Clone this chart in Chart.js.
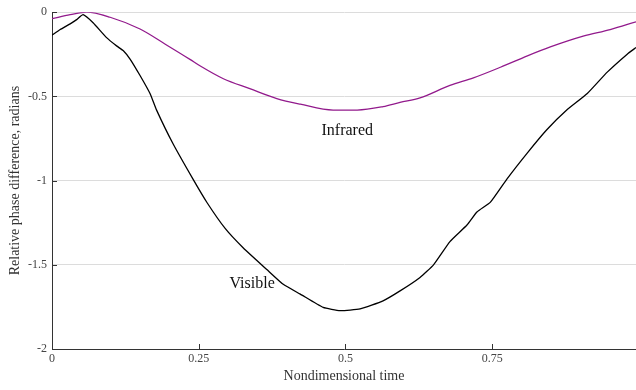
<!DOCTYPE html>
<html>
<head>
<meta charset="utf-8">
<script src="https://cdn.jsdelivr.net/npm/chart.js@4.4.1/dist/chart.umd.min.js"></script>
<style>
  html, body { margin: 0; padding: 0; background: #fff; }
  #wrap { width: 636px; height: 390px; position: relative; }
</style>
</head>
<body>
<div id="wrap"><canvas id="phaseChart"></canvas></div>
<script>
// values
const visibleTime = [0, 0.014, 0.031, 0.042, 0.053, 0.07, 0.093, 0.11, 0.122, 0.133, 0.15, 0.167, 0.178, 0.206, 0.24, 0.264, 0.295, 0.326, 0.366, 0.394, 0.423, 0.462, 0.491, 0.525, 0.564, 0.593, 0.627, 0.65, 0.678, 0.707, 0.724, 0.747, 0.775, 0.81, 0.843, 0.877, 0.912, 0.946, 0.98, 0.995];
const visiblePhase = [-0.136, -0.103, -0.069, -0.044, -0.015, -0.063, -0.151, -0.2, -0.23, -0.278, -0.376, -0.483, -0.58, -0.78, -0.99, -1.13, -1.284, -1.4, -1.528, -1.616, -1.674, -1.753, -1.772, -1.762, -1.714, -1.655, -1.575, -1.5, -1.362, -1.264, -1.186, -1.128, -0.991, -0.835, -0.698, -0.581, -0.483, -0.356, -0.249, -0.21];

const infraredTime = [0, 0.031, 0.059, 0.099, 0.15, 0.193, 0.235, 0.252, 0.292, 0.337, 0.383, 0.423, 0.479, 0.52, 0.564, 0.593, 0.627, 0.678, 0.718, 0.764, 0.81, 0.849, 0.905, 0.951, 0.995];
const infraredPhase = [-0.038, -0.015, 0, -0.03, -0.1, -0.19, -0.28, -0.318, -0.395, -0.454, -0.513, -0.546, -0.581, -0.581, -0.561, -0.536, -0.509, -0.435, -0.39, -0.327, -0.259, -0.206, -0.142, -0.103, -0.057];

const xTicks = [0, 0.25, 0.5, 0.75];
const yTicks = [-2, -1.5, -1, -0.5, 0];

const serif = "'Liberation Serif', 'DejaVu Serif', serif";

function toPoints(xs, ys) {
  return xs.map((x, i) => ({ x, y: ys[i] }));
}

// curve names written next to the lines, placed in data units
const curveLabels = [
  { text: "Infrared", x: 0.503, y: -0.706 },
  { text: "Visible", x: 0.341, y: -1.615 }
];

const annotate = {
  id: "annotate",
  afterDatasetsDraw(chart) {
    const { ctx, scales: { x, y }, chartArea } = chart;
    ctx.save();
    // ticks pointing into the plot
    ctx.strokeStyle = "#333";
    ctx.lineWidth = 1;
    ctx.beginPath();
    yTicks.forEach(v => {
      const py = Math.round(y.getPixelForValue(v)) + 0.5;
      ctx.moveTo(chartArea.left, py);
      ctx.lineTo(chartArea.left + 5, py);
    });
    xTicks.forEach(v => {
      const px = Math.round(x.getPixelForValue(v)) + 0.5;
      ctx.moveTo(px, chartArea.bottom);
      ctx.lineTo(px, chartArea.bottom - 5);
    });
    ctx.stroke();

    ctx.fillStyle = "#111";
    ctx.font = "16px " + serif;
    ctx.textAlign = "center";
    ctx.textBaseline = "middle";
    curveLabels.forEach(l => {
      ctx.fillText(l.text, x.getPixelForValue(l.x), y.getPixelForValue(l.y));
    });
    ctx.restore();
  }
};

new Chart(document.getElementById("phaseChart"), {
  type: "line",
  data: {
    datasets: [
      {
        label: "Infrared",
        data: toPoints(infraredTime, infraredPhase),
        borderColor: "#921a8c",
        borderWidth: 1.3,
        pointRadius: 0,
        cubicInterpolationMode: "monotone"
      },
      {
        label: "Visible",
        data: toPoints(visibleTime, visiblePhase),
        borderColor: "#000",
        borderWidth: 1.3,
        pointRadius: 0,
        tension: 0.15
      }
    ]
  },
  options: {
    responsive: true,
    maintainAspectRatio: false,
    animation: false,
    layout: { padding: { top: 7, right: 0, left: 0, bottom: 0 } },
    plugins: {
      legend: { display: false },
      tooltip: { enabled: false }
    },
    scales: {
      x: {
        type: "linear",
        min: 0,
        max: 0.995,
        afterBuildTicks: s => { s.ticks = xTicks.map(v => ({ value: v })); },
        afterFit: s => { s.height = 41; },
        grid: { display: false, drawTicks: false },
        border: { color: "#333", width: 1 },
        ticks: {
          padding: 3,
          color: "#444",
          font: { family: serif, size: 12 },
          maxRotation: 0,
          callback: v => String(v)
        },
        title: {
          display: true,
          text: "Nondimensional time",
          color: "#333",
          font: { family: serif, size: 14 },
          padding: { top: 0, bottom: 5 }
        }
      },
      y: {
        min: -2,
        max: 0,
        afterBuildTicks: s => { s.ticks = yTicks.map(v => ({ value: v })); },
        afterFit: s => { s.width = 52; },
        grid: { color: "#dcdcdc", lineWidth: 1, drawTicks: false },
        border: { color: "#333", width: 1 },
        ticks: {
          padding: 5,
          color: "#444",
          font: { family: serif, size: 12 },
          callback: v => String(v)
        },
        title: {
          display: true,
          text: "Relative phase difference, radians",
          color: "#333",
          font: { family: serif, size: 14 },
          padding: { top: 7, bottom: 0 }
        }
      }
    }
  },
  plugins: [annotate]
});
</script>
</body>
</html>
